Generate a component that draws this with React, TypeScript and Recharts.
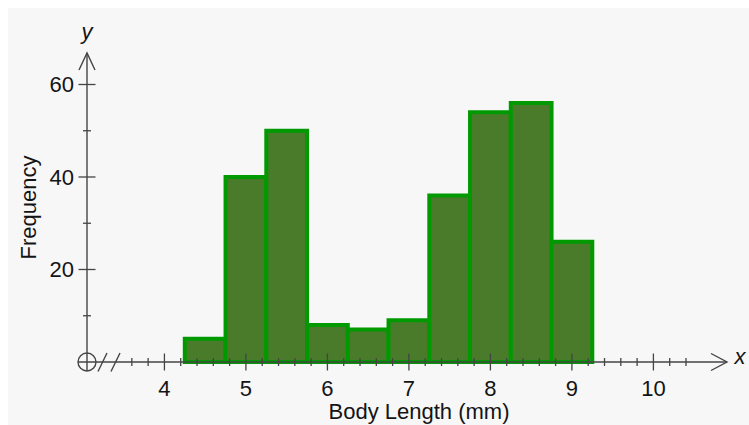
import React from 'react';
import {
  ComposedChart,
  Label,
  ReferenceArea,
  ReferenceDot,
  ReferenceLine,
  XAxis,
  YAxis,
} from 'recharts';

// histogram bins (mm) and counts
const binStarts = [4.25, 4.75, 5.25, 5.75, 6.25, 6.75, 7.25, 7.75, 8.25, 8.75];
const binEnds = [4.75, 5.25, 5.75, 6.25, 6.75, 7.25, 7.75, 8.25, 8.75, 9.25];
const frequencies = [5, 40, 50, 8, 7, 9, 36, 54, 56, 26];

const xMajorTicks = [4, 5, 6, 7, 8, 9, 10];
const xMinorTicks = [
  3.6, 3.8, 4.2, 4.4, 4.6, 4.8, 5.2, 5.4, 5.6, 5.8, 6.2, 6.4, 6.6, 6.8, 7.2, 7.4,
  7.6, 7.8, 8.2, 8.4, 8.6, 8.8, 9.2, 9.4, 9.6, 9.8, 10.2, 10.4,
];
const yMajorTicks = [20, 40, 60];
const yMinorTicks = [10, 30, 50];

const X_MIN = 3.05;
const X_MAX = 10.903;
const Y_MAX = 66.81;

const AXIS = '#444444';
const TEXT = '#141414';
const FONT = '"Liberation Sans", Arial, sans-serif';

const bins = binStarts.map((start, i) => ({ start, end: binEnds[i], count: frequencies[i] }));

const XTick = ({ x, y, payload }: any) => {
  const v = payload.value;
  const major = xMajorTicks.includes(v);
  const h = major ? 8.5 : 4;
  return (
    <g>
      <line x1={x} x2={x} y1={y - h} y2={y + h} stroke={AXIS} strokeWidth={1.3} />
      {major && (
        <text x={x} y={y + 34} textAnchor="middle" fontSize={22} fill={TEXT} fontFamily={FONT}>
          {v}
        </text>
      )}
    </g>
  );
};

const YTick = ({ x, y, payload }: any) => {
  const v = payload.value;
  const major = yMajorTicks.includes(v);
  const h = major ? 8.5 : 4;
  return (
    <g>
      <line x1={x - h} x2={x + h} y1={y} y2={y} stroke={AXIS} strokeWidth={1.3} />
      {major && (
        <text x={x - 13} y={y + 8} textAnchor="end" fontSize={22} fill={TEXT} fontFamily={FONT}>
          {v}
        </text>
      )}
    </g>
  );
};

// x axis with arrow, axis break and origin cross
const XAxisLine = (props: any) => {
  const y = props.y1;
  const left = Math.min(props.x1, props.x2);
  const right = Math.max(props.x1, props.x2);
  return (
    <g>
      <line x1={left - 9} x2={right} y1={y} y2={y} stroke={AXIS} strokeWidth={1.4} />
      <path d={`M${right - 16},${y - 8.5} L${right},${y} L${right - 16},${y + 8.5}`} fill="none" stroke={AXIS} strokeWidth={1.4} />
      <line x1={left + 11} y1={y + 9.5} x2={left + 20} y2={y - 9} stroke={AXIS} strokeWidth={1.4} />
      <line x1={left + 24} y1={y + 9.5} x2={left + 33} y2={y - 9} stroke={AXIS} strokeWidth={1.4} />
      <text x={right + 13} y={y + 2} textAnchor="middle" fontSize={22} fontStyle="italic" fill={TEXT} fontFamily={FONT}>
        x
      </text>
    </g>
  );
};

const YAxisLine = (props: any) => {
  const x = props.x1;
  const top = Math.min(props.y1, props.y2);
  const bottom = Math.max(props.y1, props.y2);
  return (
    <g>
      <line x1={x} x2={x} y1={top} y2={bottom + 9} stroke={AXIS} strokeWidth={1.4} />
      <path d={`M${x - 8},${top + 17} L${x},${top} L${x + 8},${top + 17}`} fill="none" stroke={AXIS} strokeWidth={1.4} />
      <text x={x} y={top - 14} textAnchor="middle" fontSize={22} fontStyle="italic" fill={TEXT} fontFamily={FONT}>
        y
      </text>
    </g>
  );
};

const XTitle = ({ viewBox }: any) => (
  <text
    x={viewBox.x + viewBox.width / 2 + 12}
    y={viewBox.y + 57}
    textAnchor="middle"
    fontSize={22}
    fill={TEXT}
    fontFamily={FONT}
  >
    Body Length (mm)
  </text>
);

const YTitle = ({ viewBox }: any) => {
  const x = viewBox.x + 8.5;
  const y = viewBox.y + viewBox.height / 2;
  return (
    <text
      x={x}
      y={y}
      transform={`rotate(-90, ${x}, ${y})`}
      textAnchor="middle"
      fontSize={22}
      fill={TEXT}
      fontFamily={FONT}
    >
      Frequency
    </text>
  );
};

export default function App() {
  return (
    <div style={{ width: 749, height: 425, boxSizing: 'border-box', padding: '8px 0 0 8px', background: '#ffffff' }}>
      <style>{'body { margin: 0; overflow: hidden; }'}</style>
      <div style={{ width: 741, height: 417, background: '#f7f7f7' }}>
        <ComposedChart
          width={741}
          height={417}
          data={bins}
          margin={{ top: 45, right: 22, bottom: 33, left: 19 }}
        >
          <XAxis
            type="number"
            dataKey="start"
            domain={[X_MIN, X_MAX]}
            allowDataOverflow
            ticks={[...xMinorTicks, ...xMajorTicks].sort((a, b) => a - b)}
            interval={0}
            tick={<XTick />}
            tickSize={0}
            tickMargin={0}
            tickLine={false}
            axisLine={false}
            height={30}
          >
            <Label content={<XTitle />} />
          </XAxis>
          <YAxis
            type="number"
            domain={[0, Y_MAX]}
            allowDataOverflow
            ticks={[...yMinorTicks, ...yMajorTicks].sort((a, b) => a - b)}
            interval={0}
            tick={<YTick />}
            tickSize={0}
            tickMargin={0}
            tickLine={false}
            axisLine={false}
            width={60}
          >
            <Label content={<YTitle />} />
          </YAxis>
          {bins.map((b) => (
            <ReferenceArea
              key={b.start}
              x1={b.start}
              x2={b.end}
              y1={0}
              y2={b.count}
              fill="#4a7b2b"
              fillOpacity={1}
              stroke="#009a00"
              strokeWidth={4}
              strokeOpacity={1}
              ifOverflow="visible"
            />
          ))}
          <ReferenceLine y={0} shape={XAxisLine} ifOverflow="visible" />
          <ReferenceLine x={X_MIN} shape={YAxisLine} ifOverflow="visible" />
          <ReferenceDot x={X_MIN} y={0} r={9} fill="none" stroke={AXIS} strokeWidth={1.4} ifOverflow="visible" />
        </ComposedChart>
      </div>
    </div>
  );
}
